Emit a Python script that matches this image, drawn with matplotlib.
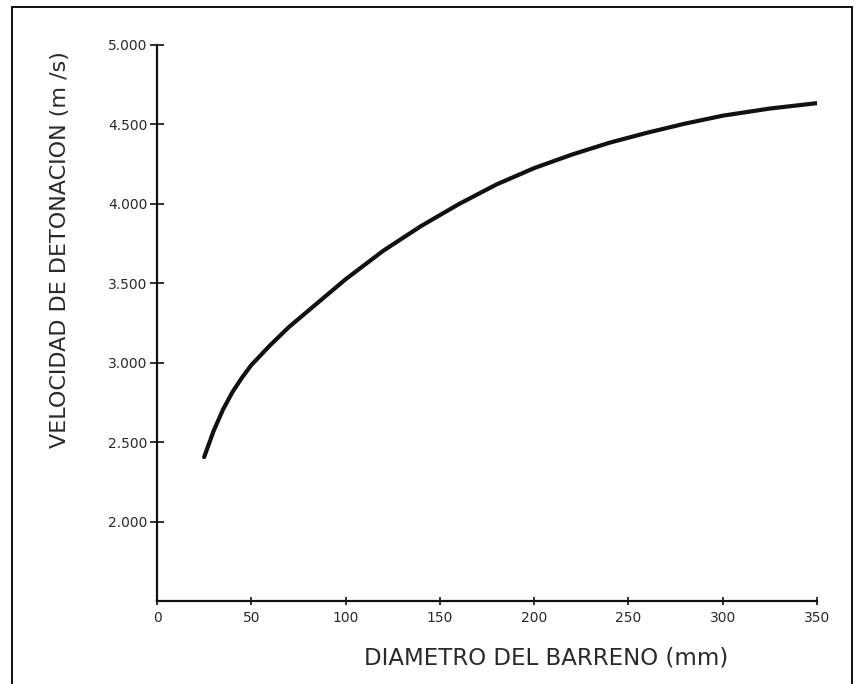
import matplotlib
matplotlib.use('Agg')
import matplotlib.pyplot as plt
import matplotlib.patches as patches

# Diametro del barreno (mm) vs velocidad de detonacion (m/s)
diametro = [25, 30, 35, 40, 45, 50, 60, 70, 80, 90, 100, 120, 140, 160, 180, 200,
            220, 240, 260, 280, 300, 325, 350]
velocidad = [2406, 2570, 2705, 2815, 2905, 2985, 3110, 3225, 3325, 3425, 3525, 3705,
             3860, 3998, 4122, 4225, 4310, 4385, 4448, 4505, 4555, 4600, 4634]

x_ticks = [0, 50, 100, 150, 200, 250, 300, 350]
y_ticks = [2000, 2500, 3000, 3500, 4000, 4500, 5000]
y_labels = ['2.000', '2.500', '3.000', '3.500', '4.000', '4.500', '5.000']

W, H = 856, 684
fig = plt.figure(figsize=(W / 100, H / 100), dpi=100)
ax = fig.add_axes([157 / W, 1 - 601 / H, (817 - 157) / W, (601 - 45) / H])

ax.plot(diametro, velocidad, color='#111111', lw=3, solid_capstyle='round')

ax.set_xlim(0, 350)
ax.set_ylim(1500, 5000)
ax.set_xticks(x_ticks)
ax.set_xticklabels([str(t) for t in x_ticks])
ax.set_yticks(y_ticks)
ax.set_yticklabels(y_labels)

for side in ('top', 'right'):
    ax.spines[side].set_visible(False)
for side in ('left', 'bottom'):
    ax.spines[side].set_linewidth(1.6)
    ax.spines[side].set_color('#111111')

ax.tick_params(axis='both', direction='inout', width=1.2,
               labelsize=10, labelcolor='#2a2a2a', color='#111111')
ax.tick_params(axis='x', length=6, pad=4)
ax.tick_params(axis='y', length=10, pad=2)

fig.text(60 / W, 1 - 250 / H, 'VELOCIDAD DE DETONACION (m /s)', rotation=90,
         ha='center', va='center', fontsize=16, color='#2a2a2a')
fig.text(546 / W, 1 - 658 / H, 'DIAMETRO DEL BARRENO (mm)',
         ha='center', va='center', fontsize=16.5, color='#2a2a2a')

# marco del escaneo
fig.patches.append(patches.Rectangle((12 / W, -0.02), (852 - 12) / W, (H - 7) / H + 0.02,
                                     transform=fig.transFigure, fill=False,
                                     edgecolor='#111111', lw=1.4))

fig.savefig('out.png', dpi=100)
